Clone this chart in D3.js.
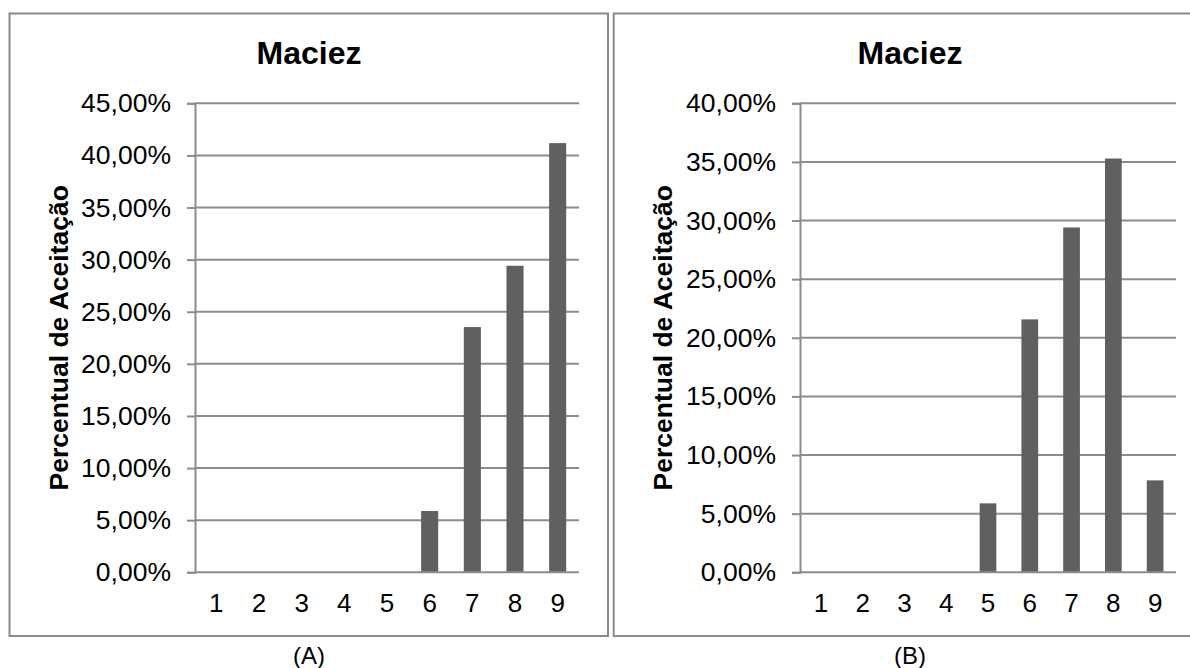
<!DOCTYPE html>
<html>
<head>
<meta charset="utf-8">
<script src="https://cdn.jsdelivr.net/npm/d3@7"></script>
<style>
  html, body { margin: 0; padding: 0; background: #fff; }
  svg { display: block; font-family: "Liberation Sans", Arial, sans-serif; }
</style>
</head>
<body>
<svg id="chart" width="1190" height="668"></svg>
<script>
// Scores on the hedonic scale
const categories = ["1", "2", "3", "4", "5", "6", "7", "8", "9"];
// Acceptance share per score, panel A (n = 17)
const valuesA = [0, 0, 0, 0, 0, 0.0588, 0.2353, 0.2941, 0.4118];
// Acceptance share per score, panel B (n = 51)
const valuesB = [0, 0, 0, 0, 0.0588, 0.2157, 0.2941, 0.3529, 0.0784];
// Y-axis ticks
const ticksA = [0, 0.05, 0.10, 0.15, 0.20, 0.25, 0.30, 0.35, 0.40, 0.45];
const ticksB = [0, 0.05, 0.10, 0.15, 0.20, 0.25, 0.30, 0.35, 0.40];
const chartTitle = "Maciez";
const yTitle = "Percentual de Aceitação";
const panelLabels = ["(A)", "(B)"];

const locale = d3.formatLocale({ decimal: ",", thousands: ".", grouping: [3], currency: ["", ""] });
const pct = locale.format(".2%");

const svg = d3.select("#chart");
const gridColor = "#8c8c8c";
const barColor = "#606060";
const fontFamily = "\"Liberation Sans\", Arial, sans-serif";

function panel(cfg) {
  const g = svg.append("g");

  // outer frame
  g.append("rect")
    .attr("x", cfg.frame[0]).attr("y", cfg.frame[1])
    .attr("width", cfg.frame[2] - cfg.frame[0]).attr("height", cfg.frame[3] - cfg.frame[1])
    .attr("fill", "none").attr("stroke", "#8a8a8a").attr("stroke-width", 2);

  const x = d3.scaleBand().domain(categories).range([cfg.left, cfg.right]).paddingInner(0.6).paddingOuter(0.3);
  const y = d3.scaleLinear().domain([0, cfg.ticks[cfg.ticks.length - 1]]).range([cfg.bottom, cfg.top]);

  // horizontal gridlines
  g.append("g").selectAll("line").data(cfg.ticks.filter(t => t > 0)).join("line")
    .attr("x1", cfg.left).attr("x2", cfg.right)
    .attr("y1", d => y(d)).attr("y2", d => y(d))
    .attr("stroke", gridColor).attr("stroke-width", 2);

  // bars
  g.append("g").selectAll("rect").data(cfg.values).join("rect")
    .attr("x", (d, i) => x(categories[i]))
    .attr("width", x.bandwidth())
    .attr("y", d => y(d))
    .attr("height", d => y(0) - y(d))
    .attr("fill", barColor);

  // y axis
  const yAxis = d3.axisLeft(y).tickValues(cfg.ticks).tickFormat(pct).tickSize(8).tickPadding(16);
  const ya = g.append("g").attr("transform", `translate(${cfg.left},0)`).call(yAxis);
  ya.select(".domain").attr("stroke", gridColor).attr("stroke-width", 2);
  ya.selectAll(".tick line").attr("stroke", gridColor).attr("stroke-width", 2);
  ya.selectAll(".tick text").attr("fill", "#000").attr("font-size", 26.5)
    .attr("font-family", fontFamily);

  // x axis
  const xAxis = d3.axisBottom(x).tickSize(0).tickPadding(21);
  const xa = g.append("g").attr("transform", `translate(0,${cfg.bottom})`).call(xAxis);
  xa.select(".domain").attr("stroke", gridColor).attr("stroke-width", 2)
    .attr("d", `M${cfg.left},0H${cfg.right}`);
  xa.selectAll(".tick text").attr("fill", "#000").attr("font-size", 26)
    .attr("font-family", fontFamily);

  // chart title
  g.append("text")
    .attr("x", cfg.titleX).attr("y", 64)
    .attr("text-anchor", "middle")
    .attr("font-size", 32).attr("font-weight", "bold")
    .text(chartTitle);

  // y-axis title
  g.append("text")
    .attr("transform", `translate(${cfg.yTitleX},${(cfg.top + cfg.bottom) / 2}) rotate(-90)`)
    .attr("text-anchor", "middle")
    .attr("font-size", 26.5).attr("font-weight", "bold")
    .text(yTitle);

  // panel caption
  svg.append("text")
    .attr("x", cfg.titleX).attr("y", 664)
    .attr("text-anchor", "middle")
    .attr("font-size", 24)
    .text(cfg.label);
}

panel({
  frame: [9.5, 13.5, 608, 636],
  left: 195, right: 579, top: 103.3, bottom: 572.3,
  ticks: ticksA, values: valuesA,
  titleX: 309, yTitleX: 68, label: panelLabels[0]
});

panel({
  frame: [613.7, 13.5, 1207, 636],
  left: 800, right: 1176, top: 103.3, bottom: 572.3,
  ticks: ticksB, values: valuesB,
  titleX: 910, yTitleX: 672, label: panelLabels[1]
});
</script>
</body>
</html>
